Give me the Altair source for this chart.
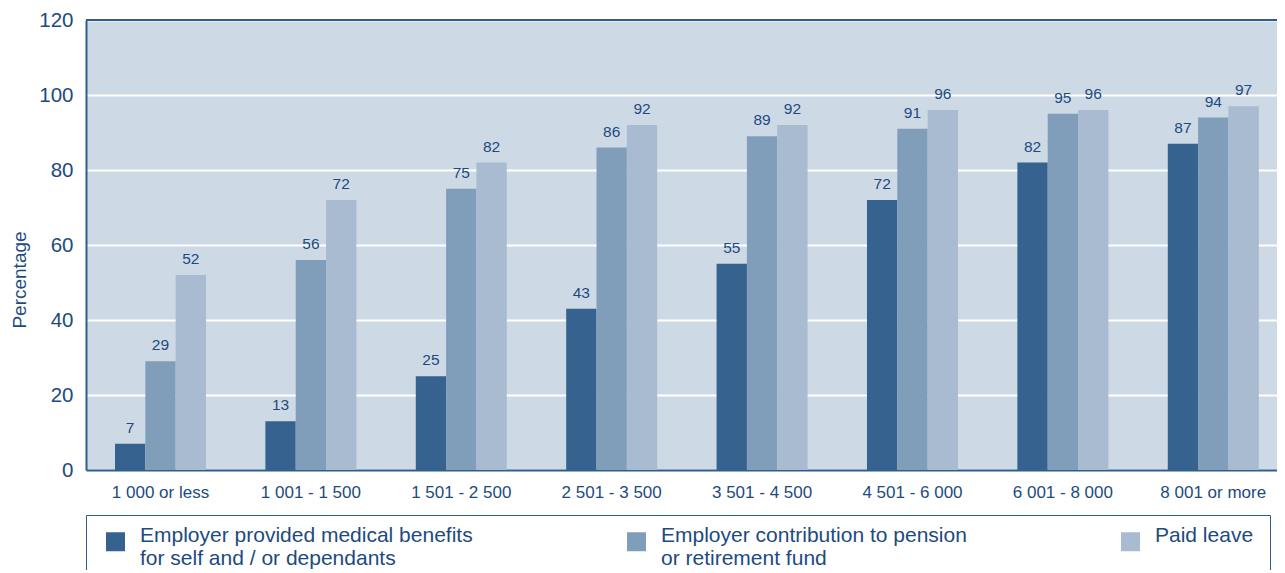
import altair as alt
import pandas as pd

categories = ["1 000 or less", "1 001 - 1 500", "1 501 - 2 500", "2 501 - 3 500",
              "3 501 - 4 500", "4 501 - 6 000", "6 001 - 8 000", "8 001 or more"]
series = ["Employer provided medical benefits|for self and / or dependants",
          "Employer contribution to pension|or retirement fund",
          "Paid leave"]
medical = [7, 13, 25, 43, 55, 72, 82, 87]
pension = [29, 56, 75, 86, 89, 91, 95, 94]
leave = [52, 72, 82, 92, 92, 96, 96, 97]

colors = ["#35628f", "#809db9", "#a8bbd1"]
text_color = "#1d4b80"
line_color = "#2f5d8f"
font = "Liberation Sans"

rows = []
for s, vals in zip(series, [medical, pension, leave]):
    for c, v in zip(categories, vals):
        rows.append({"category": c, "series": s, "value": v})
df = pd.DataFrame(rows)

x = alt.X("category:N", sort=categories, title=None,
          scale=alt.Scale(paddingInner=0.395, paddingOuter=0.157, align=0.614),
          axis=alt.Axis(labelAngle=0, labelFontSize=17, labelColor=text_color,
                        labelFont=font, ticks=False, domain=True,
                        domainColor=line_color, domainWidth=2, labelPadding=14))
xo = alt.XOffset("series:N", sort=series)

# every legend label gets two lines so all entries share the same vertical layout
legend_expr = ("indexof(datum.label, '|') < 0 ? [datum.label, ''] "
               ": split(datum.label, '|')")

base = alt.Chart(df)
bars = base.mark_bar().encode(
    x=x, xOffset=xo,
    y=alt.Y("value:Q", scale=alt.Scale(domain=[0, 120]),
            axis=alt.Axis(values=[0, 20, 40, 60, 80, 100, 120], title="Percentage",
                          titleFont=font, titleFontSize=19, titleFontWeight="normal",
                          titleColor=text_color, titleX=-57, titleY=259.5,
                          labelFont=font, labelFontSize=20.5, labelColor=text_color,
                          labelPadding=13, ticks=False, domain=True,
                          domainColor=line_color, domainWidth=2,
                          grid=True, gridColor="white", gridWidth=2)),
    color=alt.Color("series:N", sort=series,
                    scale=alt.Scale(domain=series, range=colors),
                    legend=alt.Legend(title=None, orient="none", legendX=0, legendY=495,
                                      direction="horizontal", columns=3,
                                      symbolType="square", symbolSize=361,
                                      symbolStrokeWidth=0, symbolOpacity=1,
                                      symbolOffset=3,
                                      labelFont=font, labelFontSize=21,
                                      labelColor=text_color, labelLimit=700,
                                      labelOffset=14, labelBaseline="alphabetic",
                                      labelExpr=legend_expr,
                                      columnPadding=150, padding=16,
                                      strokeColor=line_color)),
)
labels = base.mark_text(baseline="bottom", dy=-8, font=font, fontSize=15.5,
                        color=text_color).encode(
    x=x, xOffset=xo, y="value:Q", text="value:Q")

top_line = alt.Chart(df).mark_rule(color=line_color, strokeWidth=2).encode(
    y=alt.value(0))

chart = alt.layer(bars, labels, top_line).properties(
    width=1191, height=450,
    autosize=alt.AutoSizeParams(type="none"),
    padding={"left": 78, "top": 12, "right": 0, "bottom": 100},
).configure_view(fill="#cdd9e5", stroke=None)

chart.save("out.html", embed_options={"renderer": "svg", "actions": False})
